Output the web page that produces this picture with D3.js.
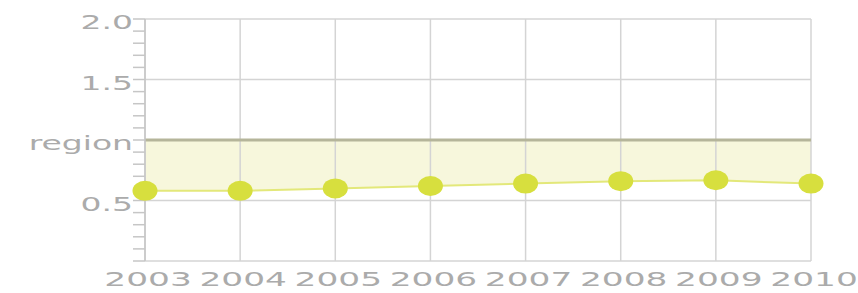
<!DOCTYPE html>
<html>
<head>
<meta charset="utf-8">
<script src="https://cdn.jsdelivr.net/npm/d3@7"></script>
<style>
  body { margin: 0; background: #fff; }
  svg text { font-family: 'DejaVu Sans', Verdana, sans-serif; fill: #ababab; }
</style>
</head>
<body>
<svg class="chart" width="858" height="293"></svg>
<script>
// data
const years = [2003, 2004, 2005, 2006, 2007, 2008, 2009, 2010];
const values = [0.58, 0.58, 0.60, 0.62, 0.64, 0.66, 0.667, 0.64];
const regionValue = 1.0;
const yTickValues = [0.5, 1.0, 1.5, 2.0];
const yTickLabels = ['0.5', 'region', '1.5', '2.0'];
const minorTicks = d3.range(1, 20).map(d => d / 10);

function drawChart(){
  const margin = {top: 19, right: 47, bottom: 32, left: 145},
        width = 858 - margin.left - margin.right,
        height = 293 - margin.top - margin.bottom;

  // the labels in the picture are drawn wide
  const stretchX = 1.72,
        stretchY = 1.65;

  const x = d3.scaleLinear()
              .domain([years[0], years[years.length - 1]])
              .range([0, width]);

  const y = d3.scaleLinear()
              .domain([0, 2])
              .range([height, 0]);

  const svg = d3.select('svg.chart').append('g')
                .attr('transform', `translate(${margin.left}, ${margin.top})`);

  const pts = years.map((yr, i) => ({year: yr, v: values[i]}));

  // shaded band between the region line and the series
  const band = d3.area()
                 .x(d => x(d.year))
                 .y0(y(regionValue))
                 .y1(d => y(d.v));

  svg.append('path')
    .datum(pts)
    .attr('d', band)
    .style('fill', '#f7f7dc');

  // grid
  svg.selectAll('line.hgrid')
    .data([0, 0.5, 1.5, 2.0])
    .enter()
    .append('line')
      .attr('class', 'hgrid')
      .attr('x1', 0)
      .attr('x2', width)
      .attr('y1', d => y(d))
      .attr('y2', d => y(d))
      .style('stroke', '#d4d4d4')
      .style('stroke-width', 1.5);

  svg.selectAll('line.vgrid')
    .data(years)
    .enter()
    .append('line')
      .attr('class', 'vgrid')
      .attr('x1', d => x(d))
      .attr('x2', d => x(d))
      .attr('y1', y(2))
      .attr('y2', y(0))
      .style('stroke', '#d4d4d4')
      .style('stroke-width', 1.5);

  // region line
  svg.append('line')
    .attr('x1', 0)
    .attr('x2', width)
    .attr('y1', y(regionValue))
    .attr('y2', y(regionValue))
    .style('stroke', '#b5b59a')
    .style('stroke-width', 3);

  // left axis ticks
  svg.selectAll('line.minor')
    .data(minorTicks.concat([0, 2]))
    .enter()
    .append('line')
      .attr('class', 'minor')
      .attr('x1', -12)
      .attr('x2', 0)
      .attr('y1', d => y(d))
      .attr('y2', d => y(d))
      .style('stroke', '#c6c6c6')
      .style('stroke-width', 1.5);

  svg.append('line')
    .attr('x1', 0).attr('x2', 0)
    .attr('y1', y(2)).attr('y2', y(0))
    .style('stroke', '#c6c6c6')
    .style('stroke-width', 1.5);

  // y labels
  svg.selectAll('text.ylab')
    .data(yTickValues)
    .enter()
    .append('text')
      .attr('class', 'ylab')
      .attr('transform', d => `translate(-12, ${y(d) + 10}) scale(${stretchY}, 1)`)
      .attr('text-anchor', 'end')
      .style('font-size', '20px')
      .text((d, i) => yTickLabels[i]);

  // x labels
  svg.selectAll('text.xlab')
    .data(years)
    .enter()
    .append('text')
      .attr('class', 'xlab')
      .attr('transform', d => `translate(${x(d) + 3}, ${height + 25}) scale(${stretchX}, 1)`)
      .attr('text-anchor', 'middle')
      .style('font-size', '20px')
      .text(d => d);

  // series
  const line = d3.line()
                 .x(d => x(d.year))
                 .y(d => y(d.v));

  svg.append('path')
    .datum(pts)
    .attr('d', line)
    .style('fill', 'none')
    .style('stroke', '#e3e87a')
    .style('stroke-width', 2);

  svg.selectAll('ellipse.dot')
    .data(pts)
    .enter()
    .append('ellipse')
      .attr('class', 'dot')
      .attr('cx', d => x(d.year))
      .attr('cy', d => y(d.v))
      .attr('rx', 12.5)
      .attr('ry', 10)
      .style('fill', '#d7df3e');
}

drawChart();
</script>
</body>
</html>
